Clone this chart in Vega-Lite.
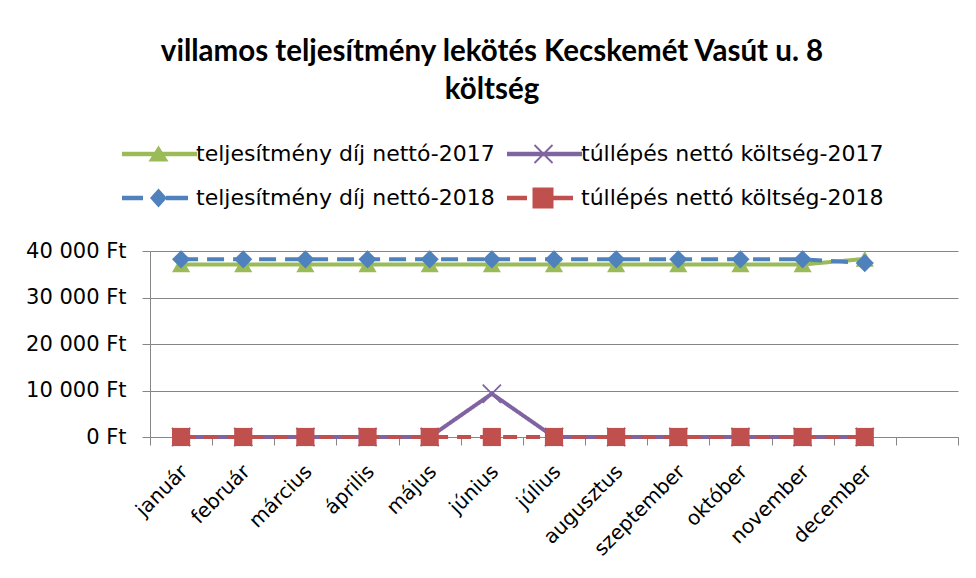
{
  "$schema": "https://vega.github.io/schema/vega-lite/v6.json",
  "width": 808,
  "height": 186,
  "padding": {"left": 25, "top": 36, "right": 10, "bottom": 5},
  "background": "white",
  "title": {
    "text": ["villamos teljesítmény lekötés Kecskemét Vasút u. 8", "költség"],
    "font": "Lato", "fontSize": 29.5, "fontWeight": "bold", "color": "#000",
    "lineHeight": 38, "anchor": "middle", "frame": "bounds", "offset": 38
  },
  "data": {
    "values": [
      {"month": "január", "series": "teljesítmény díj nettó-2017", "value": 37100},
      {"month": "február", "series": "teljesítmény díj nettó-2017", "value": 37100},
      {"month": "március", "series": "teljesítmény díj nettó-2017", "value": 37100},
      {"month": "április", "series": "teljesítmény díj nettó-2017", "value": 37100},
      {"month": "május", "series": "teljesítmény díj nettó-2017", "value": 37100},
      {"month": "június", "series": "teljesítmény díj nettó-2017", "value": 37100},
      {"month": "július", "series": "teljesítmény díj nettó-2017", "value": 37100},
      {"month": "augusztus", "series": "teljesítmény díj nettó-2017", "value": 37100},
      {"month": "szeptember", "series": "teljesítmény díj nettó-2017", "value": 37100},
      {"month": "október", "series": "teljesítmény díj nettó-2017", "value": 37100},
      {"month": "november", "series": "teljesítmény díj nettó-2017", "value": 37100},
      {"month": "december", "series": "teljesítmény díj nettó-2017", "value": 38300},
      {"month": "január", "series": "túllépés nettó költség-2017", "value": 0},
      {"month": "február", "series": "túllépés nettó költség-2017", "value": 0},
      {"month": "március", "series": "túllépés nettó költség-2017", "value": 0},
      {"month": "április", "series": "túllépés nettó költség-2017", "value": 0},
      {"month": "május", "series": "túllépés nettó költség-2017", "value": 0},
      {"month": "június", "series": "túllépés nettó költség-2017", "value": 9300},
      {"month": "július", "series": "túllépés nettó költség-2017", "value": 0},
      {"month": "augusztus", "series": "túllépés nettó költség-2017", "value": 0},
      {"month": "szeptember", "series": "túllépés nettó költség-2017", "value": 0},
      {"month": "október", "series": "túllépés nettó költség-2017", "value": 0},
      {"month": "november", "series": "túllépés nettó költség-2017", "value": 0},
      {"month": "december", "series": "túllépés nettó költség-2017", "value": 0},
      {"month": "január", "series": "teljesítmény díj nettó-2018", "value": 38200},
      {"month": "február", "series": "teljesítmény díj nettó-2018", "value": 38200},
      {"month": "március", "series": "teljesítmény díj nettó-2018", "value": 38200},
      {"month": "április", "series": "teljesítmény díj nettó-2018", "value": 38200},
      {"month": "május", "series": "teljesítmény díj nettó-2018", "value": 38200},
      {"month": "június", "series": "teljesítmény díj nettó-2018", "value": 38200},
      {"month": "július", "series": "teljesítmény díj nettó-2018", "value": 38200},
      {"month": "augusztus", "series": "teljesítmény díj nettó-2018", "value": 38200},
      {"month": "szeptember", "series": "teljesítmény díj nettó-2018", "value": 38200},
      {"month": "október", "series": "teljesítmény díj nettó-2018", "value": 38200},
      {"month": "november", "series": "teljesítmény díj nettó-2018", "value": 38200},
      {"month": "december", "series": "teljesítmény díj nettó-2018", "value": 37400},
      {"month": "január", "series": "túllépés nettó költség-2018", "value": 0},
      {"month": "február", "series": "túllépés nettó költség-2018", "value": 0},
      {"month": "március", "series": "túllépés nettó költség-2018", "value": 0},
      {"month": "április", "series": "túllépés nettó költség-2018", "value": 0},
      {"month": "május", "series": "túllépés nettó költség-2018", "value": 0},
      {"month": "június", "series": "túllépés nettó költség-2018", "value": 0},
      {"month": "július", "series": "túllépés nettó költség-2018", "value": 0},
      {"month": "augusztus", "series": "túllépés nettó költség-2018", "value": 0},
      {"month": "szeptember", "series": "túllépés nettó költség-2018", "value": 0},
      {"month": "október", "series": "túllépés nettó költség-2018", "value": 0},
      {"month": "november", "series": "túllépés nettó költség-2018", "value": 0},
      {"month": "december", "series": "túllépés nettó költség-2018", "value": 0}
    ]
  },
  "encoding": {
    "x": {
      "field": "month", "type": "nominal", "sort": null,
      "scale": {"domain": ["január", "február", "március", "április", "május", "június", "július", "augusztus", "szeptember", "október", "november", "december", " "], "paddingInner": 0, "paddingOuter": 0},
      "axis": {"title": null, "tickBand": "extent", "grid": false, "labelAngle": -45, "labelFont": "DejaVu Sans", "labelFontSize": 20, "labelColor": "#000", "tickSize": 8, "tickColor": "#868686", "domainColor": "#868686", "labelPadding": 16, "labelOffset": -4}
    },
    "y": {
      "field": "value", "type": "quantitative",
      "scale": {"domain": [0, 40000], "nice": false},
      "axis": {"title": null, "values": [0, 10000, 20000, 30000, 40000], "labelExpr": "replace(format(datum.value, ',d'), ',', ' ') + ' Ft'", "grid": true, "gridColor": "#868686", "domainColor": "#868686", "tickColor": "#868686", "tickSize": 8, "labelPadding": 16, "labelFont": "DejaVu Sans", "labelFontSize": 21, "labelColor": "#000"}
    }
  },
  "layer": [
    {
      "mark": {"type": "line", "strokeWidth": 4},
      "encoding": {
        "stroke": {"field": "series", "type": "nominal", "legend": null,
          "scale": {"range": ["#9BBB59", "#4F81BD", "#8064A2", "#C0504D"]}},
        "strokeDash": {"field": "series", "type": "nominal", "legend": null,
          "scale": {"range": [[1, 0], [17, 9], [1, 0], [14, 9]]}}
      }
    },
    {
      "transform": [{"filter": "datum.series === 'teljesítmény díj nettó-2017'"}],
      "mark": {"type": "point", "filled": true, "size": 330, "opacity": 1, "strokeWidth": 0, "shape": "triangle-up", "fill": "#9BBB59"},
      "encoding": {}
    },
    {
      "transform": [{"filter": "datum.series === 'túllépés nettó költség-2017'"}],
      "mark": {"type": "point", "filled": true, "size": 330, "opacity": 1, "strokeWidth": 0, "shape": "M-0.93,-1.07L1.07,0.93L0.93,1.07L-1.07,-0.93Z M0.93,-1.07L1.07,-0.93L-0.93,1.07L-1.07,0.93Z", "fill": "#8064A2"},
      "encoding": {}
    },
    {
      "transform": [{"filter": "datum.series === 'teljesítmény díj nettó-2018'"}],
      "mark": {"type": "point", "filled": true, "size": 330, "opacity": 1, "strokeWidth": 0, "shape": "diamond", "fill": "#4F81BD"},
      "encoding": {}
    },
    {
      "transform": [{"filter": "datum.series === 'túllépés nettó költség-2018'"}],
      "mark": {"type": "point", "filled": true, "size": 330, "opacity": 1, "strokeWidth": 0, "shape": "square", "fill": "#C0504D"},
      "encoding": {}
    },
    {
      "transform": [{"filter": "datum.value < 0"}],
      "mark": {"type": "point", "filled": true, "size": 400, "opacity": 1, "strokeWidth": 0},
      "encoding": {
        "color": {"field": "series", "type": "nominal",
          "scale": {"domain": ["teljesítmény díj nettó-2017", "túllépés nettó költség-2017", "teljesítmény díj nettó-2018", "túllépés nettó költség-2018"], "range": ["#9BBB59", "#8064A2", "#4F81BD", "#C0504D"]},
          "legend": {"title": null, "orient": "none", "legendX": -30, "legendY": -108, "direction": "horizontal", "columns": 2, "symbolSize": 400, "symbolStrokeWidth": 0, "symbolOpacity": 1, "labelOffset": 54, "rowPadding": 22, "columnPadding": 10, "labelLimit": 400, "labelFont": "DejaVu Sans", "labelFontSize": 22, "labelColor": "#000"}},
        "shape": {"field": "series", "type": "nominal",
          "legend": {"title": null, "orient": "none", "legendX": -30, "legendY": -108, "direction": "horizontal", "columns": 2, "symbolSize": 400, "symbolStrokeWidth": 0, "symbolOpacity": 1, "labelOffset": 54, "rowPadding": 22, "columnPadding": 10, "labelLimit": 400, "labelFont": "DejaVu Sans", "labelFontSize": 22, "labelColor": "#000"},
          "scale": {"domain": ["teljesítmény díj nettó-2017", "túllépés nettó költség-2017", "teljesítmény díj nettó-2018", "túllépés nettó költség-2018"], "range": [
            "M-0.9,-0.22H6.6V0.22H-0.9Z M2.75,-0.85L3.75,0.75H1.75Z",
            "M-0.9,-0.22H6.6V0.22H-0.9Z M1.913,-0.963L3.713,0.837L3.587,0.963L1.787,-0.837Z M3.587,-0.963L3.713,-0.837L1.913,0.963L1.787,0.837Z",
            "M-0.9,-0.22H1.2V0.22H-0.9Z M2.75,-0.95L3.6,0L2.75,0.95L1.9,0Z M3.5,-0.22H5.7V0.22H3.5Z",
            "M-0.9,-0.22H1.1V0.22H-0.9Z M1.65,-1.05H3.75V1.05H1.65Z M3.7,-0.22H5.7V0.22H3.7Z"
          ]}}
      }
    }
  ],
  "config": {
    "view": {"stroke": null},
    "font": "DejaVu Sans"
  }
}
